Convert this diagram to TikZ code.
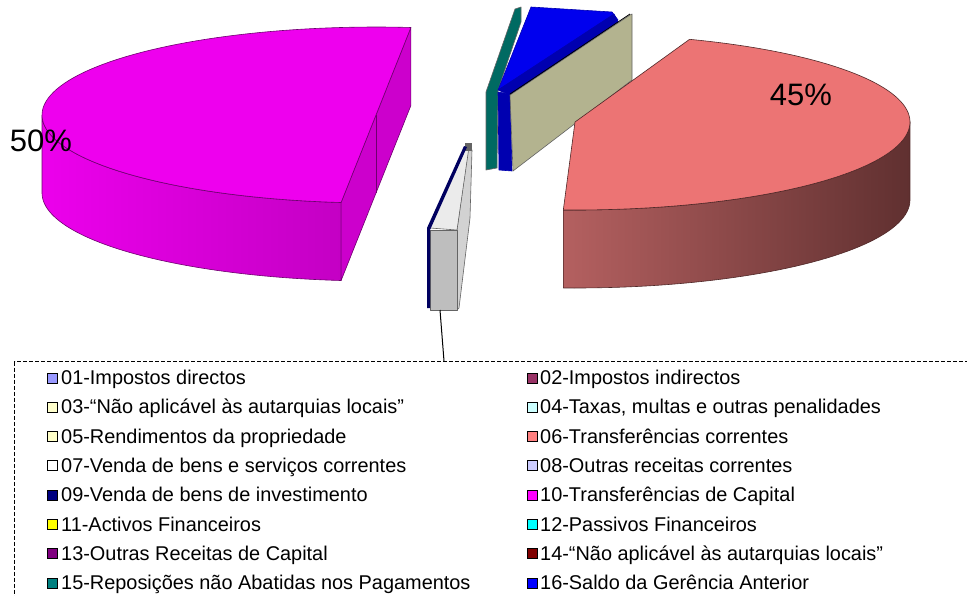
\documentclass[tikz,border=0pt]{standalone}
\usepackage{fontspec}
\setmainfont{Liberation Sans}
\definecolor{magtop}{RGB}{238,0,238}
\definecolor{magL}{RGB}{236,0,236}
\definecolor{magR}{RGB}{196,0,196}
\definecolor{magcut}{RGB}{204,0,204}
\definecolor{magline}{RGB}{110,0,110}
\definecolor{saltop}{RGB}{236,116,116}
\definecolor{salL}{RGB}{180,96,96}
\definecolor{salM}{RGB}{118,60,60}
\definecolor{salR}{RGB}{96,48,48}
\definecolor{salline}{RGB}{80,40,40}
\definecolor{tealc}{RGB}{0,106,98}
\definecolor{bluetop}{RGB}{0,0,238}
\definecolor{bluedark}{RGB}{0,0,176}
\definecolor{khaki}{RGB}{179,179,143}
\definecolor{gtop}{RGB}{235,235,235}
\definecolor{gside}{RGB}{210,210,210}
\definecolor{gfront}{RGB}{190,190,190}
\definecolor{navyc}{RGB}{0,0,96}
\definecolor{edgegray}{RGB}{100,100,100}
\definecolor{leg01}{RGB}{153,153,255}
\definecolor{leg02}{RGB}{153,51,102}
\definecolor{leg03}{RGB}{255,255,204}
\definecolor{leg04}{RGB}{204,255,255}
\definecolor{leg05}{RGB}{255,255,200}
\definecolor{leg06}{RGB}{255,128,128}
\definecolor{leg07}{RGB}{255,255,255}
\definecolor{leg08}{RGB}{204,204,255}
\definecolor{leg09}{RGB}{0,0,128}
\definecolor{leg10}{RGB}{255,0,255}
\definecolor{leg11}{RGB}{255,255,0}
\definecolor{leg12}{RGB}{0,255,255}
\definecolor{leg13}{RGB}{128,0,128}
\definecolor{leg14}{RGB}{128,0,0}
\definecolor{leg15}{RGB}{0,128,128}
\definecolor{leg16}{RGB}{0,0,255}
\tikzset{
  legtext/.style={anchor=base west, inner sep=0pt, font=\fontsize{19.9}{23}\selectfont},
  legmark/.style={draw=black, line width=0.9pt, minimum size=10pt, inner sep=0pt},
  pct/.style={font=\fontsize{31}{36}\selectfont, inner sep=0pt},
  outl/.style={draw=#1, line width=0.6pt, line join=round},
  legbox/.style={draw=black, line width=1.4pt, dash pattern=on 4pt off 2pt}
}
\begin{document}
\begin{tikzpicture}[x=1pt,y=-1pt]
\useasboundingbox (0,0) rectangle (967,595);
\clip (0,0) rectangle (967,595);
\fill[white] (0,0) rectangle (967,595);

% ---------- magenta slice (50%) ----------
\shadedraw[outl=magline, left color=magL, right color=magR]
  plot[domain=180:264, samples=50] ({376+334*cos(\x)},{115-88*sin(\x)})
  -- plot[domain=264:180, samples=50] ({376+334*cos(\x)},{193-88*sin(\x)}) -- cycle;
\filldraw[outl=magline, fill=magcut]
  ({376+334*cos(84)},{115-88*sin(84)}) -- ({376+334*cos(264)},{115-88*sin(264)})
  -- ({376+334*cos(264)},{193-88*sin(264)}) -- ({376+334*cos(84)},{193-88*sin(84)}) -- cycle;
\draw[magline, line width=0.6pt] (376,115) -- (376,193);
\filldraw[outl=magline, fill=magtop]
  plot[domain=84:264, samples=90] ({376+334*cos(\x)},{115-88*sin(\x)}) -- cycle;

% ---------- small slices top centre ----------
\filldraw[outl=edgegray, fill=tealc]
  (486,170) -- (486,92) -- (515,9) -- (521,7) -- (521,22) -- (498,90) -- (497,168) -- cycle;
\filldraw[outl=bluedark, fill=bluetop]
  (498,90) -- (531,7) -- (612,12) -- (618,20) -- cycle;
\filldraw[outl=bluedark, fill=bluedark]
  (498,90) -- (614,14) -- (618,22) -- (510,95) -- cycle;
\filldraw[outl=bluedark, fill=bluedark]
  (498,92) -- (510,94) -- (512,171) -- (499,170) -- cycle;
\filldraw[outl=edgegray, fill=khaki]
  (510,95) -- (630,15) -- (632,14) -- (632,80) -- (513,171) -- cycle;
\draw[black, line width=0.8pt] (510,94) -- (630,14);

% ---------- salmon slice (45%) ----------
\shadedraw[outl=salline, left color=salL, middle color=salM, right color=salR]
  plot[domain=-92:0, samples=50] ({575+335*cos(\x)},{122-88*sin(\x)})
  -- plot[domain=0:-92, samples=50] ({575+335*cos(\x)},{200-88*sin(\x)}) -- cycle;
\filldraw[outl=salline, fill=saltop]
  (575,122) -- plot[domain=-92:70, samples=90] ({575+335*cos(\x)},{122-88*sin(\x)}) -- cycle;

% ---------- grey slice (07 / 09) ----------
\filldraw[outl=edgegray, fill=gside]
  (457,230) -- (468,150) -- (472,150) -- (470,218) -- (459,308) -- (457,310) -- cycle;
\filldraw[outl=edgegray, fill=gtop]
  (430,228) -- (465,148) -- (469,147) -- (457,230) -- cycle;
\fill[edgegray] (465,143) -- (472,143) -- (472,151) -- (465,151) -- cycle;
\filldraw[outl=edgegray, fill=gfront]
  (430,230) -- (457,230) -- (457,310) -- (430,310) -- cycle;
\fill[navyc] (427,228) -- (464,146) -- (467,147) -- (430,230) -- (430,308) -- (427,308) -- cycle;

% ---------- percentage labels ----------
\node[pct] (p50) at (41,141) {50\%};
\node[pct] (p45) at (801,95) {45\%};

% ---------- legend ----------
\node[legbox, anchor=north west, minimum width=980pt, minimum height=260pt, inner sep=0pt] (legend) at (14,361) {};
\coordinate (slicebot) at (440,310);
\coordinate (leadend) at (444,361);
\draw[black, line width=1pt] (slicebot) -- (leadend);

\node[legmark, fill=leg01] (m01) at (52,378) {};
\node[legtext] (t01) at (61,384.5) {01-Impostos directos};
\node[legmark, fill=leg03] (m03) at (52,407.3) {};
\node[legtext] (t03) at (61,413.8) {03-“Não aplicável às autarquias locais”};
\node[legmark, fill=leg05] (m05) at (52,436.6) {};
\node[legtext] (t05) at (61,443.1) {05-Rendimentos da propriedade};
\node[legmark, fill=leg07] (m07) at (52,465.9) {};
\node[legtext] (t07) at (61,472.4) {07-Venda de bens e serviços correntes};
\node[legmark, fill=leg09] (m09) at (52,495.2) {};
\node[legtext] (t09) at (61,501.7) {09-Venda de bens de investimento};
\node[legmark, fill=leg11] (m11) at (52,524.5) {};
\node[legtext] (t11) at (61,531.0) {11-Activos Financeiros};
\node[legmark, fill=leg13] (m13) at (52,553.8) {};
\node[legtext] (t13) at (61,560.3) {13-Outras Receitas de Capital};
\node[legmark, fill=leg15] (m15) at (52,583.1) {};
\node[legtext] (t15) at (61,589.6) {15-Reposições não Abatidas nos Pagamentos};

\node[legmark, fill=leg02] (m02) at (532,378) {};
\node[legtext] (t02) at (540,384.5) {02-Impostos indirectos};
\node[legmark, fill=leg04] (m04) at (532,407.3) {};
\node[legtext] (t04) at (540,413.8) {04-Taxas, multas e outras penalidades};
\node[legmark, fill=leg06] (m06) at (532,436.6) {};
\node[legtext] (t06) at (540,443.1) {06-Transferências correntes};
\node[legmark, fill=leg08] (m08) at (532,465.9) {};
\node[legtext] (t08) at (540,472.4) {08-Outras receitas correntes};
\node[legmark, fill=leg10] (m10) at (532,495.2) {};
\node[legtext] (t10) at (540,501.7) {10-Transferências de Capital};
\node[legmark, fill=leg12] (m12) at (532,524.5) {};
\node[legtext] (t12) at (540,531.0) {12-Passivos Financeiros};
\node[legmark, fill=leg14] (m14) at (532,553.8) {};
\node[legtext] (t14) at (540,560.3) {14-“Não aplicável às autarquias locais”};
\node[legmark, fill=leg16] (m16) at (532,583.1) {};
\node[legtext] (t16) at (540,589.6) {16-Saldo da Gerência Anterior};
\end{tikzpicture}
\end{document}
